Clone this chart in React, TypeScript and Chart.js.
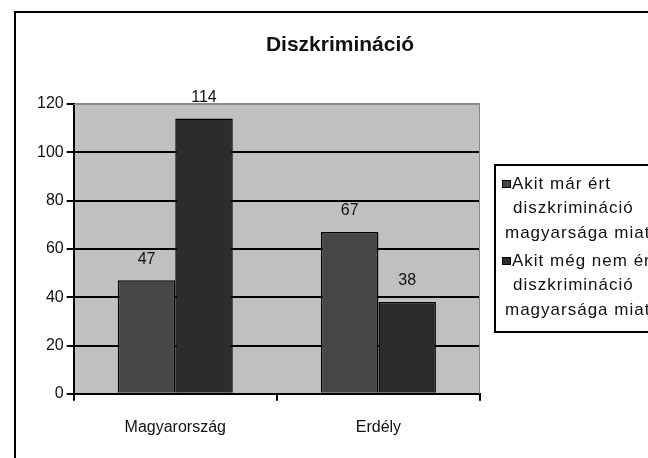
import React, { useEffect, useRef } from "react";
import { Chart, registerables } from "chart.js";

Chart.register(...registerables);

const titleText = "Diszkrimináció";
const categories = ["Magyarország", "Erdély"];
const seriesLegend = [
  ["Akit már ért", "diszkrimináció", "magyarsága miatt"],
  ["Akit még nem ért", "diszkrimináció", "magyarsága miatt"],
];
const alreadyValues = [47, 67];
const notYetValues = [114, 38];
const yTickValues = [0, 20, 40, 60, 80, 100, 120];
const seriesColors = ["#474747", "#2c2c2c"];

const FONT = "'Liberation Sans', Arial, sans-serif";

const decorPlugin = {
  id: "decor",
  beforeDraw(chart: any) {
    const { ctx, chartArea } = chart;
    ctx.save();
    ctx.fillStyle = "#c0c0c0";
    ctx.fillRect(chartArea.left, chartArea.top, chartArea.right - chartArea.left, chartArea.bottom - chartArea.top);
    ctx.restore();
  },
  afterDatasetsDraw(chart: any) {
    const { ctx, chartArea } = chart;
    ctx.save();
    ctx.strokeStyle = "#8a8a8a";
    ctx.lineWidth = 1;
    ctx.beginPath();
    ctx.moveTo(chartArea.left, chartArea.top + 0.5);
    ctx.lineTo(chartArea.right - 0.5, chartArea.top + 0.5);
    ctx.lineTo(chartArea.right - 0.5, chartArea.bottom);
    ctx.stroke();
    ctx.fillStyle = "#111";
    ctx.font = `16px ${FONT}`;
    ctx.textAlign = "center";
    ctx.textBaseline = "middle";
    chart.data.datasets.forEach((ds: any, di: number) => {
      const meta = chart.getDatasetMeta(di);
      meta.data.forEach((bar: any, i: number) => {
        ctx.fillText(String(ds.data[i]), bar.x, bar.y - 21);
      });
    });
    ctx.restore();
  },
  afterDraw(chart: any) {
    const { ctx, width, height } = chart;
    ctx.save();
    ctx.strokeStyle = "#000";
    ctx.lineWidth = 2;
    ctx.beginPath();
    ctx.moveTo(15, height);
    ctx.lineTo(15, 12);
    ctx.lineTo(width, 12);
    ctx.stroke();
    ctx.fillStyle = "#111";
    ctx.font = `bold 21px ${FONT}`;
    ctx.textAlign = "center";
    ctx.textBaseline = "middle";
    ctx.fillText(titleText, 340, 45);
    ctx.lineWidth = 2;
    ctx.strokeRect(495, 165, 200, 167);
    ctx.font = `17px ${FONT}`;
    try { (ctx as any).letterSpacing = "1px"; } catch (e) {}
    ctx.textAlign = "left";
    const entryTops = [184, 261];
    const lineX = [512, 513, 505];
    seriesLegend.forEach((lines, si) => {
      const y0 = entryTops[si];
      ctx.fillStyle = seriesColors[si];
      ctx.fillRect(502, y0 - 4, 9, 8);
      ctx.lineWidth = 1;
      ctx.strokeStyle = "#000";
      ctx.strokeRect(502.5, y0 - 3.5, 8, 7);
      ctx.fillStyle = "#111";
      lines.forEach((t, li) => {
        ctx.fillText(t, lineX[li], y0 + li * 24.5);
      });
    });
    ctx.restore();
  },
};

export default function App() {
  const ref = useRef<HTMLCanvasElement | null>(null);
  useEffect(() => {
    if (!ref.current) return;
    const chart = new Chart(ref.current, {
      type: "bar",
      data: {
        labels: categories,
        datasets: [
          {
            label: seriesLegend[0].join(" "),
            data: alreadyValues,
            backgroundColor: seriesColors[0],
            borderColor: "#000",
            borderWidth: 1.5,
            categoryPercentage: 0.566,
            barPercentage: 1,
          },
          {
            label: seriesLegend[1].join(" "),
            data: notYetValues,
            backgroundColor: seriesColors[1],
            borderColor: "#000",
            borderWidth: 1.5,
            categoryPercentage: 0.566,
            barPercentage: 1,
          },
        ],
      },
      options: {
        responsive: false,
        animation: false,
        devicePixelRatio: 1,
        layout: { padding: { left: 34, right: 168, top: 104, bottom: 4 } },
        plugins: {
          legend: { display: false },
          title: { display: false },
          tooltip: { enabled: false },
        },
        scales: {
          x: {
            offset: true,
            grid: { offset: true, drawOnChartArea: false, drawTicks: true, tickLength: 7, color: "#000", lineWidth: 2 },
            border: { color: "#000", width: 2 },
            ticks: { color: "#111", font: { family: FONT, size: 16 }, padding: 17, maxRotation: 0, autoSkip: false },
          },
          y: {
            min: 0,
            max: 120,
            afterBuildTicks: (scale: any) => {
              scale.ticks = yTickValues.map((v) => ({ value: v }));
            },
            grid: {
              color: (c: any) => (c.tick && c.tick.value === 120 ? "#8a8a8a" : "#000"),
              lineWidth: 2,
              tickLength: 7,
              tickColor: "#000",
            },
            border: { color: "#000", width: 2 },
            ticks: { color: "#111", font: { family: FONT, size: 16 }, padding: 3 },
          },
        },
      },
      plugins: [decorPlugin],
    });
    return () => chart.destroy();
  }, []);
  return (
    <div style={{ position: "absolute", left: 0, top: 0, width: 648, height: 458, background: "#fff" }}>
      <canvas ref={ref} width={648} height={458} style={{ display: "block" }} />
    </div>
  );
}
